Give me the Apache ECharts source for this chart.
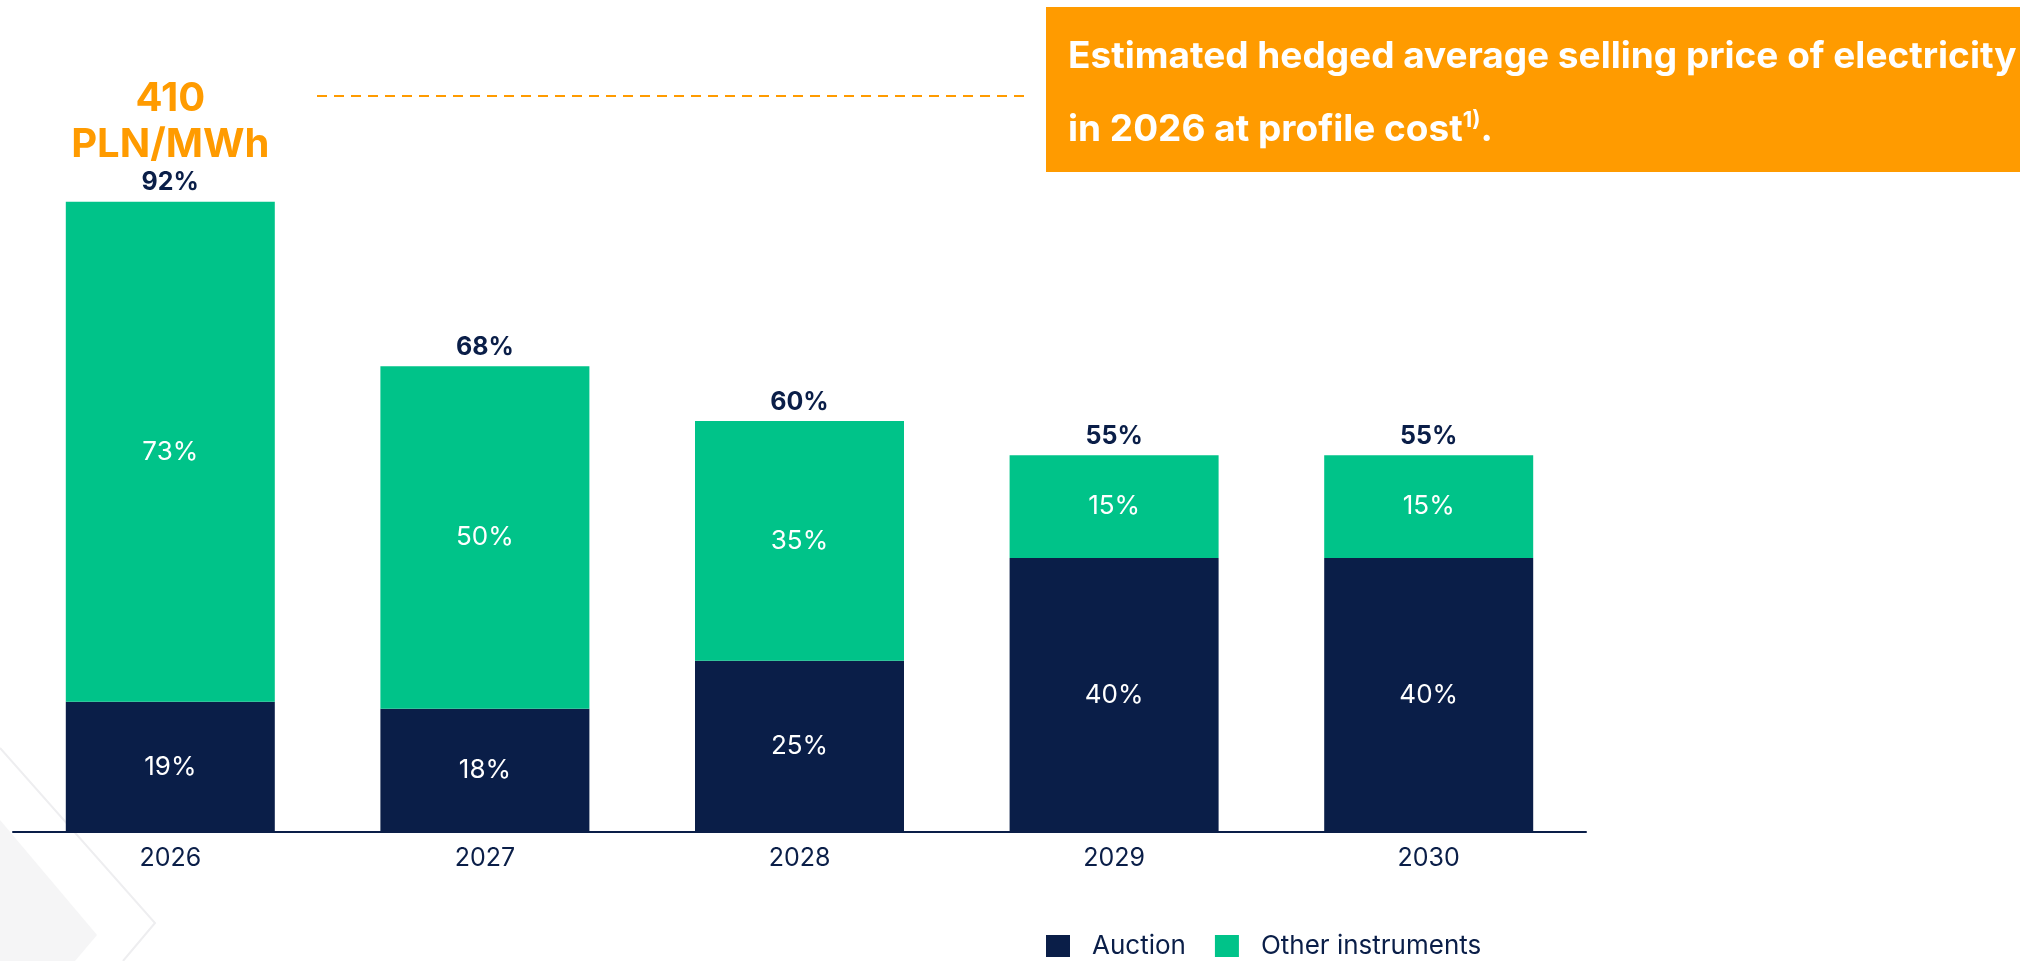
<!DOCTYPE html>
<html>
<head>
<meta charset="utf-8">
<script src="https://cdn.jsdelivr.net/npm/echarts@6/dist/echarts.min.js"></script>
<style>
    html, body { margin: 0; padding: 0; background: #ffffff; }
    #chart { width: 2020px; height: 961px; }
</style>
</head>
<body>
<div id="chart"></div>
<script>
    // years on the x axis
    var years = ['2026', '2027', '2028', '2029', '2030'];
    // hedged share per instrument (%)
    var auction = [19, 18, 25, 40, 40];
    var otherInstruments = [73, 50, 35, 15, 15];
    // total hedge shown above each bar (%)
    var totals = [92, 68, 60, 55, 55];
    // price callout over the first bar
    var priceValue = '410';
    var priceUnit = 'PLN/MWh';

    var navy = '#0A1E48';
    var green = '#00C389';
    var orange = '#FF9B00';
    var font = 'Inter, "Noto Sans", sans-serif';

    var chart = echarts.init(document.getElementById('chart'));

    var option = {
        backgroundColor: '#ffffff',
        animation: false,
        textStyle: { fontFamily: font },
        grid: {
            left: 13,
            right: 434,
            top: 147,
            bottom: 129,
            containLabel: false
        },
        legend: {
            data: ['Auction', 'Other instruments'],
            left: 1046,
            top: 933,
            padding: 0,
            icon: 'rect',
            itemWidth: 24,
            itemHeight: 22,
            itemGap: 29,
            textStyle: {
                color: navy,
                fontSize: 26,
                fontFamily: font,
                padding: [0, 0, 0, 17]
            }
        },
        xAxis: {
            type: 'category',
            data: years,
            axisTick: { show: false },
            axisLine: {
                lineStyle: { color: navy, width: 2 }
            },
            axisLabel: {
                color: navy,
                fontSize: 25,
                fontFamily: font,
                margin: 14
            }
        },
        yAxis: {
            type: 'value',
            min: 0,
            max: 100,
            show: false,
            splitLine: { show: false }
        },
        series: [
            {
                name: 'Auction',
                type: 'bar',
                stack: 'hedge',
                barWidth: 209,
                itemStyle: { color: navy },
                label: {
                    show: true,
                    position: 'inside',
                    color: '#ffffff',
                    fontSize: 26,
                    fontFamily: font,
                    formatter: '{c}%'
                },
                data: auction
            },
            {
                name: 'Other instruments',
                type: 'bar',
                stack: 'hedge',
                barWidth: 209,
                itemStyle: { color: green },
                label: {
                    show: true,
                    position: 'inside',
                    color: '#ffffff',
                    fontSize: 26,
                    fontFamily: font,
                    formatter: '{c}%'
                },
                data: otherInstruments
            },
            {
                // invisible bar carrying the total labels
                name: 'Total',
                type: 'bar',
                barWidth: 209,
                barGap: '-100%',
                silent: true,
                z: 1,
                itemStyle: { color: 'rgba(0,0,0,0)' },
                label: {
                    show: true,
                    position: 'top',
                    distance: 4,
                    formatter: function (p) {
                        var t = '{t|' + p.value + '%}';
                        if (p.dataIndex === 0) {
                            return '{o|' + priceValue + '}\n{o|' + priceUnit + '}\n' + t;
                        }
                        return t;
                    },
                    rich: {
                        t: {
                            color: navy,
                            fontSize: 25,
                            fontWeight: 'bold',
                            fontFamily: font,
                            lineHeight: 30,
                            align: 'center'
                        },
                        o: {
                            color: orange,
                            fontSize: 40,
                            fontWeight: 'bold',
                            fontFamily: font,
                            lineHeight: 46,
                            align: 'center'
                        }
                    }
                },
                data: totals
            }
        ],
        graphic: [
            // faint decorative chevron bottom-left
            {
                type: 'polygon',
                silent: true,
                z: -10,
                shape: { points: [[0, 820], [97, 935], [75, 961], [0, 961]] },
                style: { fill: '#f5f5f6' }
            },
            {
                type: 'polyline',
                silent: true,
                z: -10,
                shape: { points: [[0, 748], [155, 923], [123, 961]] },
                style: { stroke: '#eeeef0', lineWidth: 2, fill: null }
            },
            // dashed connector to the callout box
            {
                type: 'line',
                silent: true,
                shape: { x1: 317, y1: 96, x2: 1028, y2: 96 },
                style: { stroke: orange, lineWidth: 2, lineDash: [10, 7] }
            },
            {
                type: 'rect',
                silent: true,
                shape: { x: 1046, y: 7, width: 980, height: 165 },
                style: { fill: orange }
            },
            {
                type: 'text',
                silent: true,
                x: 1068,
                y: 57,
                style: {
                    text: 'Estimated hedged average selling price of electricity',
                    fill: '#ffffff',
                    font: 'bold 37px ' + font,
                    verticalAlign: 'middle'
                }
            },
            {
                type: 'text',
                silent: true,
                x: 1068,
                y: 130,
                style: {
                    text: '{a|in 2026 at profile cost}{s|1)}{a|.}',
                    fill: '#ffffff',
                    verticalAlign: 'middle',
                    rich: {
                        a: { fontSize: 37, fontWeight: 'bold', fontFamily: font, lineHeight: 42, fill: '#ffffff' },
                        s: { fontSize: 22, fontWeight: 'bold', fontFamily: font, lineHeight: 30, verticalAlign: 'top', fill: '#ffffff' }
                    }
                }
            }
        ]
    };

    chart.setOption(option);
</script>
</body>
</html>
